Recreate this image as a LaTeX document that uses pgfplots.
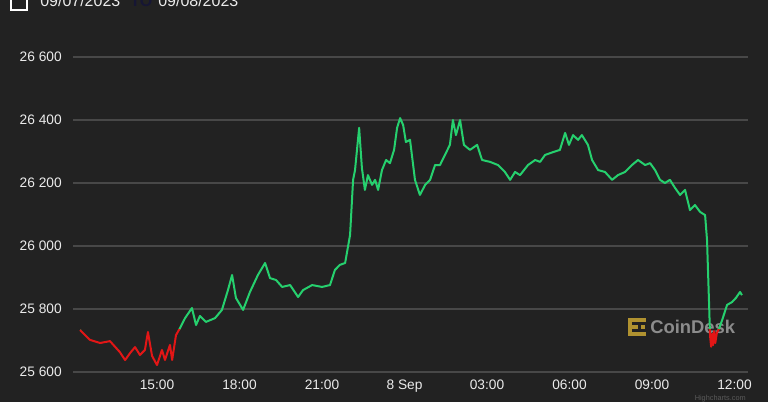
\documentclass[border=0pt]{standalone}
\usepackage{pgfplots}
\pgfplotsset{compat=1.18}
\usepackage{pgfplotstable}
\usepackage{fontspec}
\setmainfont{Liberation Sans}
\definecolor{bg}{RGB}{34,34,34}
\definecolor{gridc}{RGB}{72,72,72}
\definecolor{up}{RGB}{38,208,110}
\definecolor{down}{RGB}{226,22,22}
\definecolor{lbl}{RGB}{235,235,235}
\definecolor{gold}{RGB}{176,146,48}
\definecolor{navy}{RGB}{22,22,52}

\pgfplotstableread{
h v
12.20 25733
12.56 25702
12.93 25692
13.29 25698
13.65 25663
13.84 25638
14.02 25660
14.20 25679
14.38 25654
14.56 25670
14.67 25727
14.82 25651
15.00 25622
15.18 25670
15.29 25638
15.47 25686
15.55 25638
15.69 25717
15.84 25740
16.02 25771
16.27 25803
16.42 25749
16.56 25778
16.78 25759
17.11 25771
17.36 25797
17.58 25860
17.73 25908
17.87 25835
18.13 25797
18.38 25854
18.67 25908
18.93 25946
19.11 25898
19.33 25892
19.55 25870
19.84 25876
20.13 25838
20.31 25860
20.64 25876
21.00 25870
21.29 25876
21.47 25924
21.65 25940
21.84 25946
22.02 26035
22.13 26210
22.20 26241
22.35 26375
22.45 26248
22.56 26178
22.67 26225
22.82 26194
22.93 26210
23.04 26178
23.18 26241
23.33 26273
23.47 26263
23.62 26305
23.73 26375
23.84 26406
23.95 26384
24.05 26330
24.20 26337
24.38 26210
24.56 26162
24.75 26194
24.93 26210
25.11 26257
25.29 26257
25.47 26289
25.65 26321
25.76 26400
25.87 26352
26.02 26400
26.16 26321
26.38 26305
26.64 26321
26.82 26273
27.11 26267
27.40 26257
27.65 26235
27.84 26210
28.02 26235
28.20 26225
28.49 26257
28.75 26273
28.93 26267
29.11 26289
29.40 26298
29.65 26305
29.84 26359
29.98 26321
30.13 26352
30.31 26337
30.45 26352
30.67 26321
30.82 26273
31.04 26241
31.29 26235
31.55 26210
31.76 26225
32.02 26235
32.27 26257
32.49 26273
32.75 26257
32.93 26263
33.11 26241
33.29 26210
33.47 26200
33.65 26210
33.84 26184
34.02 26162
34.20 26178
34.38 26114
34.56 26130
34.75 26108
34.93 26098
35.00 26019
35.07 25829
35.11 25715
35.15 25680
35.19 25722
35.22 25685
35.26 25730
35.30 25692
35.36 25725
35.44 25738
35.55 25765
35.73 25813
35.91 25822
36.05 25835
36.20 25854
36.27 25844
}\data

\begin{document}
\begin{tikzpicture}
\begin{scope}[x=0.75pt,y=0.75pt]
\useasboundingbox (0,0) rectangle (768,402);
\fill[bg] (0,0) rectangle (768,402);
% header (cut off at top)
\draw[white,line width=1.6pt] (11,392) rectangle (27,412);
\node[anchor=base west,inner sep=0pt,text=lbl,font=\fontsize{12}{14}\selectfont] at (40,395) {09/07/2023};
\node[anchor=base west,inner sep=0pt,text=navy,font=\fontsize{12}{14}\selectfont\bfseries] at (130,395) {TO};
\node[anchor=base west,inner sep=0pt,text=lbl,font=\fontsize{12}{14}\selectfont] at (158,395) {09/08/2023};
% watermark
\fill[gold] (628,84) rectangle (632,66);
\fill[gold] (628,84) rectangle (646,80);
\fill[gold] (628,70) rectangle (646,66);
\fill[gold] (628,77) rectangle (638,73);
\fill[gold] (641,77) rectangle (645,73);
\node[anchor=west,inner sep=0pt,text={rgb,255:red,140;green,140;blue,140},font=\fontsize{13.8}{15}\selectfont\bfseries] at (650,75) {CoinDesk};
\node[anchor=base east,inner sep=0pt,text={rgb,255:red,90;green,90;blue,90},font=\fontsize{5.5}{6}\selectfont] at (746,1) {Highcharts.com};
\end{scope}
\begin{axis}[
  at={(54.75pt,22.5pt)}, anchor=south west,
  scale only axis, width=506.25pt, height=236.25pt,
  xmin=11.945, xmax=36.49, ymin=25600, ymax=26600,
  scaled y ticks=false, scaled x ticks=false,
  axis line style={draw=none},
  major tick style={draw=none},
  ymajorgrids, grid style={gridc, line width=0.9pt},
  ytick={25600,25800,26000,26200,26400,26600},
  yticklabels={25 600,25 800,26 000,26 200,26 400,26 600},
  xtick={15,18,21,24,27,30,33,36},
  xticklabels={15:00,18:00,21:00,8 Sep,03:00,06:00,09:00,12:00},
  tick label style={text=lbl, font=\fontsize{10.3}{12}\selectfont},
  yticklabel style={inner sep=0pt, xshift=-8.25pt},
  xticklabel style={inner sep=0pt, yshift=-5.5pt},
]
\begin{scope}
\clip (axis cs:11,25735) rectangle (axis cs:37,27000);
\addplot[up, line width=1.5pt, line join=round] table[x=h,y=v] {\data};
\end{scope}
\begin{scope}
\clip (axis cs:11,25000) rectangle (axis cs:37,25735);
\addplot[down, line width=1.5pt, line join=round] table[x=h,y=v] {\data};
\end{scope}
\end{axis}
\end{tikzpicture}
\end{document}
